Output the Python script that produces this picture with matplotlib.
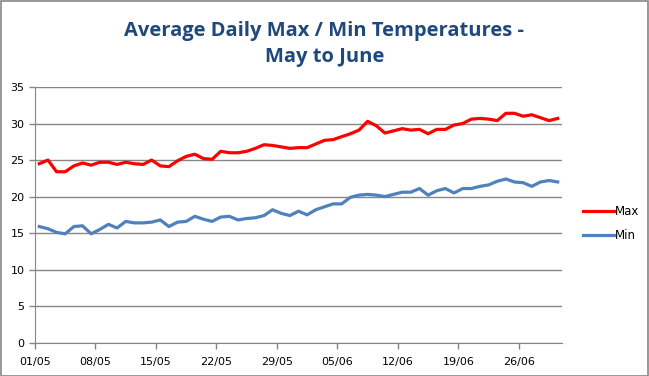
import matplotlib.pyplot as plt
import numpy as np

# Daily values 01/05 .. 30/06 (61 days)
max_temp = [24.5, 25.0, 23.4, 23.4, 24.2, 24.6, 24.3, 24.7, 24.7, 24.4, 24.7, 24.5,
            24.4, 25.0, 24.2, 24.1, 24.9, 25.5, 25.8, 25.2, 25.1, 26.2, 26.0, 26.0,
            26.2, 26.6, 27.1, 27.0, 26.8, 26.6, 26.7, 26.7, 27.2, 27.7, 27.8, 28.2,
            28.6, 29.1, 30.3, 29.7, 28.7, 29.0, 29.3, 29.1, 29.2, 28.6, 29.2, 29.2,
            29.8, 30.0, 30.6, 30.7, 30.6, 30.4, 31.4, 31.4, 31.0, 31.2, 30.8, 30.4, 30.7]
min_temp = [15.9, 15.6, 15.1, 14.9, 15.9, 16.0, 14.9, 15.5, 16.2, 15.7, 16.6, 16.4,
            16.4, 16.5, 16.8, 15.9, 16.5, 16.6, 17.3, 16.9, 16.6, 17.2, 17.3, 16.8,
            17.0, 17.1, 17.4, 18.2, 17.7, 17.4, 18.0, 17.5, 18.2, 18.6, 19.0, 19.0,
            19.9, 20.2, 20.3, 20.2, 20.0, 20.3, 20.6, 20.6, 21.1, 20.2, 20.8, 21.1,
            20.5, 21.1, 21.1, 21.4, 21.6, 22.1, 22.4, 22.0, 21.9, 21.4, 22.0, 22.2, 22.0]
tick_labels = ['01/05', '08/05', '15/05', '22/05', '29/05', '05/06', '12/06', '19/06', '26/06']

grey = '#868686'
fig = plt.figure(figsize=(6.49, 3.76), dpi=100)
ax = fig.add_axes([0.0539, 0.0886, 0.8121, 0.68])

days = np.arange(len(max_temp)) + 0.5
ax.plot(days, max_temp, color='#FF0000', lw=2.3, label='Max', solid_joinstyle='round')
ax.plot(days, min_temp, color='#4F81BD', lw=2.3, label='Min', solid_joinstyle='round')

ax.set_xlim(0, len(max_temp))
ax.set_ylim(0, 35)
ax.set_yticks(range(0, 36, 5))
ax.set_xticks(np.arange(len(tick_labels)) * 7)
ax.set_xticklabels(tick_labels)
ax.yaxis.grid(True, color=grey, lw=1)
ax.set_axisbelow(True)
for side in ['top', 'right']:
    ax.spines[side].set_visible(False)
for side in ['left', 'bottom']:
    ax.spines[side].set_color(grey)
ax.tick_params(axis='both', colors=grey, labelcolor='black', labelsize=8, length=4, width=1)
ax.tick_params(axis='x', pad=6)

fig.suptitle('Average Daily Max / Min Temperatures -\nMay to June', y=0.945,
             fontsize=14.5, fontweight='bold', color='#1F497D', family='Open Sans',
             linespacing=1.4)

ax.legend(loc='center left', bbox_to_anchor=(1.02, 0.466), frameon=False, fontsize=8.5,
          handlelength=2.6, handletextpad=0.05, labelspacing=0.9)

fig.patches.append(plt.Rectangle((0.001, 0.001), 0.997, 0.996, transform=fig.transFigure,
                                 fill=False, edgecolor=grey, lw=1.2))
fig.savefig('out.png', dpi=100)
